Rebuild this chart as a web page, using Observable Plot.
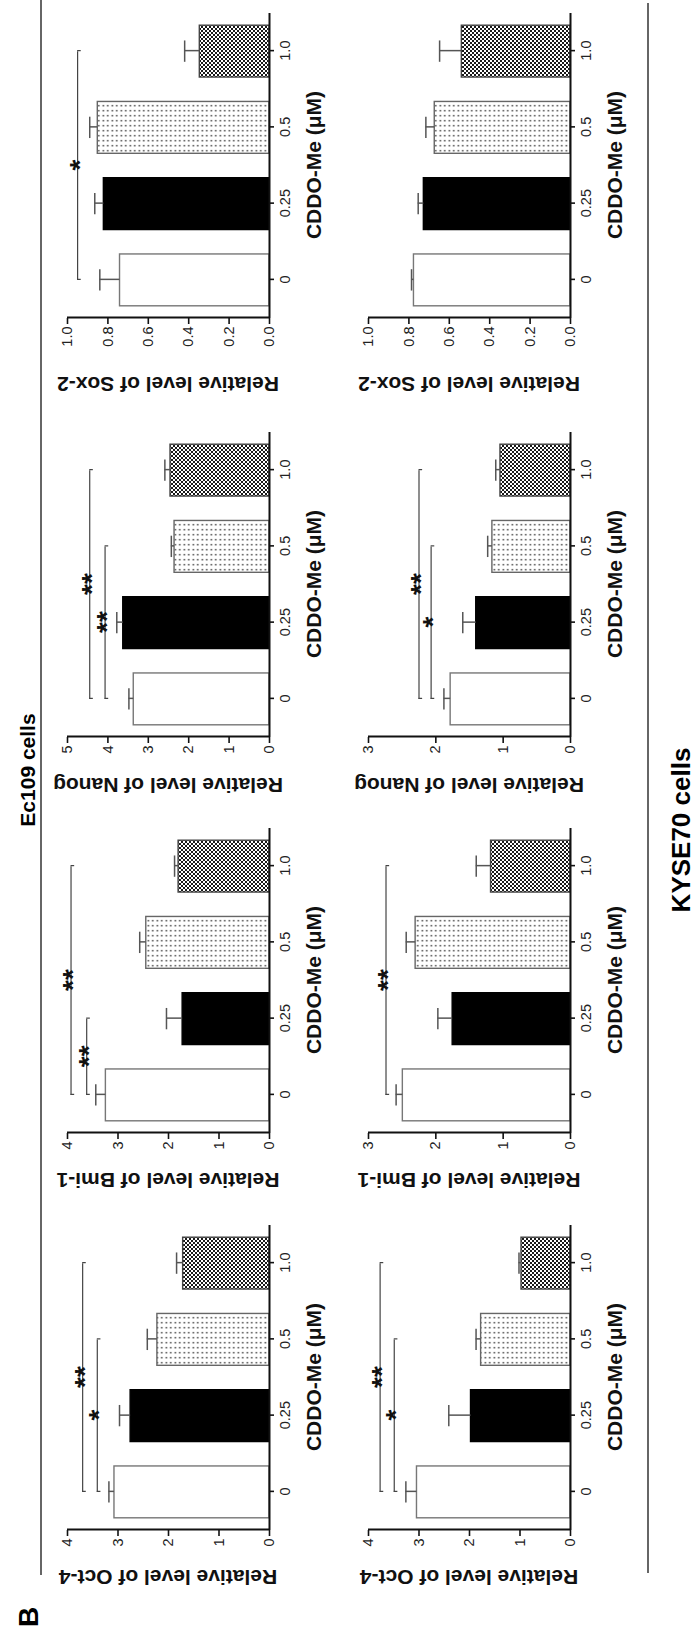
<!DOCTYPE html>
<html><head><meta charset="utf-8">
<script src="https://cdn.jsdelivr.net/npm/d3@7"></script>
<script src="https://cdn.jsdelivr.net/npm/@observablehq/plot@0.6"></script>
<style>
html,body{margin:0;padding:0;background:#fff;overflow:hidden;width:694px;height:1629px}
#fig{position:absolute;left:0;top:0;width:1629px;height:694px;transform-origin:0 0;transform:translate(0px,1629px) rotate(-90deg);font-family:Arial,"Liberation Sans",Helvetica,sans-serif;color:#111;background:#fff}
.panel{position:absolute;overflow:visible}
#overlay{position:absolute;left:0;top:0;overflow:visible}
</style></head>
<body><div id="fig"></div>
<script>
// ---------- data ----------
const doses = ["0", "0.25", "0.5", "1.0"];
const xLabel = "CDDO-Me (\u03bcM)";
const rowTitles = ["Ec109 cells", "KYSE70 cells"];
const panelLetter = "B";

const ticks3 = [0, 1, 2, 3];
const ticks4 = [0, 1, 2, 3, 4];
const ticks5 = [0, 1, 2, 3, 4, 5];
const ticksSox = [0, 0.2, 0.4, 0.6, 0.8, 1.0];

// Ec109
const ec109Oct4 = [3.07, 2.75, 2.22, 1.71];
const ec109Oct4Err = [0.11, 0.22, 0.20, 0.13];
const ec109Oct4Sig = [{from: 0, to: 2, y: 3.41, label: "*"}, {from: 0, to: 3, y: 3.70, label: "**"}];
const ec109Bmi1 = [3.24, 1.72, 2.44, 1.80];
const ec109Bmi1Err = [0.20, 0.32, 0.13, 0.08];
const ec109Bmi1Sig = [{from: 0, to: 1, y: 3.62, label: "**"}, {from: 0, to: 3, y: 3.93, label: "**"}];
const ec109Nanog = [3.36, 3.62, 2.35, 2.45];
const ec109NanogErr = [0.12, 0.16, 0.08, 0.14];
const ec109NanogSig = [{from: 0, to: 2, y: 4.07, label: "**"}, {from: 0, to: 3, y: 4.45, label: "**"}];
const ec109Sox2 = [0.74, 0.82, 0.85, 0.345];
const ec109Sox2Err = [0.10, 0.045, 0.04, 0.075];
const ec109Sox2Sig = [{from: 0, to: 3, y: 0.95, label: "*"}];

// KYSE70
const kyseOct4 = [3.04, 1.97, 1.77, 0.97];
const kyseOct4Err = [0.22, 0.44, 0.10, 0.05];
const kyseOct4Sig = [{from: 0, to: 2, y: 3.49, label: "*"}, {from: 0, to: 3, y: 3.77, label: "**"}];
const kyseBmi1 = [2.49, 1.75, 2.30, 1.18];
const kyseBmi1Err = [0.10, 0.22, 0.14, 0.22];
const kyseBmi1Sig = [{from: 0, to: 3, y: 2.74, label: "**"}];
const kyseNanog = [1.78, 1.40, 1.16, 1.04];
const kyseNanogErr = [0.10, 0.20, 0.07, 0.07];
const kyseNanogSig = [{from: 0, to: 2, y: 2.07, label: "*"}, {from: 0, to: 3, y: 2.25, label: "**"}];
const kyseSox2 = [0.775, 0.726, 0.672, 0.538];
const kyseSox2Err = [0.012, 0.028, 0.044, 0.11];
const kyseSox2Sig = [];

// ---------- styling ----------
const FONT = 'Arial, "Liberation Sans", Helvetica, sans-serif';
const barFills = ["#ffffff", "#000000", "url(#dotsPat)", "url(#checkPat)"];
const barStrokes = ["#777777", "#000000", "#666666", "#444444"];
const ML = 80, MR = 10, MT = 20, MB = 65, PW = 305, PH = 202;
const colX = [99, 496, 892, 1311];
const rowTop = [67, 368];

const fig = document.getElementById("fig");

// overlay: patterns, separator lines, titles
const ov = d3.select(fig).append("svg").attr("id", "overlay").attr("width", 1629).attr("height", 694);
const defs = ov.append("defs");
const dp = defs.append("pattern").attr("id", "dotsPat").attr("patternUnits", "userSpaceOnUse").attr("width", 5).attr("height", 4.5);
dp.append("rect").attr("width", 5).attr("height", 4.5).attr("fill", "#fff");
dp.append("rect").attr("x", 1.5).attr("y", 1.5).attr("width", 1.6).attr("height", 1.6).attr("fill", "#555");
const cp = defs.append("pattern").attr("id", "checkPat").attr("patternUnits", "userSpaceOnUse").attr("width", 4).attr("height", 4);
cp.append("rect").attr("width", 4).attr("height", 4).attr("fill", "#fff");
cp.append("rect").attr("x", 0).attr("y", 0).attr("width", 2).attr("height", 2).attr("fill", "#1a1a1a");
cp.append("rect").attr("x", 2).attr("y", 2).attr("width", 2).attr("height", 2).attr("fill", "#1a1a1a");

ov.append("line").attr("x1", 54).attr("x2", 1629).attr("y1", 41).attr("y2", 41).attr("stroke", "#333").attr("stroke-width", 1.5);
ov.append("line").attr("x1", 56).attr("x2", 1626).attr("y1", 648).attr("y2", 648).attr("stroke", "#333").attr("stroke-width", 1.5);
ov.append("text").attr("x", 859).attr("y", 35).attr("text-anchor", "middle").attr("font-family", FONT).attr("font-weight", "bold").attr("font-size", "21px").text(rowTitles[0]);
ov.append("text").attr("x", 799).attr("y", 690).attr("text-anchor", "middle").attr("font-family", FONT).attr("font-weight", "bold").attr("font-size", "26px").text(rowTitles[1]);
ov.append("text").attr("x", 2).attr("y", 38).attr("text-anchor", "start").attr("font-family", FONT).attr("font-weight", "bold").attr("font-size", "28px").text(panelLetter);

function panel({values, errs, sig, yTicks, yFmt, yLabel, col, row, labelOffset}) {
  const yMax = yTicks[yTicks.length - 1];
  const xDomain = [-0.5, doses.length - 0.5];
  const rows = doses.map((d, i) => ({i, dose: d, v: values[i], e: errs[i], fill: barFills[i], stroke: barStrokes[i]}));
  const drop = yMax * 0.018;
  const hw = 0.34, cap = 0.14;
  const chart = Plot.plot({
    width: ML + PW + MR, height: MT + PH + MB,
    marginLeft: ML, marginRight: MR, marginTop: MT, marginBottom: MB,
    style: {fontFamily: FONT, fontSize: "14.5px", color: "#111", background: "none", overflow: "visible"},
    x: {type: "linear", domain: xDomain},
    y: {domain: [0, yMax]},
    color: {type: "identity"},
    marks: [
      Plot.rectY(rows, {x1: d => d.i - hw, x2: d => d.i + hw, y1: () => 0, y2: "v", fill: "fill", stroke: "stroke", strokeWidth: 1.4}),
      Plot.ruleX(rows, {x: "i", y1: "v", y2: d => d.v + d.e, stroke: "#555", strokeWidth: 1.5}),
      Plot.ruleY(rows, {x1: d => d.i - cap, x2: d => d.i + cap, y: d => d.v + d.e, stroke: "#555", strokeWidth: 1.5}),
      Plot.ruleY(sig, {x1: "from", x2: "to", y: "y", stroke: "#444", strokeWidth: 1.2}),
      Plot.ruleX(sig, {x: "from", y1: "y", y2: d => d.y - drop, stroke: "#444", strokeWidth: 1.2}),
      Plot.ruleX(sig, {x: "to", y1: "y", y2: d => d.y - drop, stroke: "#444", strokeWidth: 1.2}),
      Plot.text(sig, {x: d => (d.from + d.to) / 2, y: "y", text: "label", lineAnchor: "bottom", dy: 11, fontSize: 28, fontWeight: "bold", fill: "#111"}),
      Plot.ruleY([0], {stroke: "#111", strokeWidth: 2}),
      Plot.ruleX([xDomain[0]], {y1: () => 0, y2: () => yMax, stroke: "#111", strokeWidth: 2}),
      Plot.axisY({ticks: yTicks, tickFormat: yFmt, tickSize: 6, tickPadding: 3, stroke: "#111", strokeWidth: 1.6, fill: "#222", label: null}),
      Plot.axisX({ticks: doses.map((d, i) => i), tickFormat: i => doses[i], tickSize: 5, tickPadding: 5, stroke: "#111", strokeWidth: 1.6, fill: "#222", label: null}),
      Plot.text([xLabel], {text: d => d, frameAnchor: "bottom", dy: 37, lineAnchor: "top", fontSize: 21, fontWeight: "bold", fill: "#111"})
    ]
  });
  chart.classList.add("panel");
  chart.style.left = (colX[col] - ML) + "px";
  chart.style.top = (rowTop[row] - MT) + "px";
  chart.style.overflow = "visible";
  chart.style.maxWidth = "none";
  d3.select(chart).append("text")
    .attr("transform", `translate(${ML - labelOffset},${MT + PH / 2}) rotate(-90)`)
    .attr("text-anchor", "middle")
    .attr("font-family", FONT).attr("font-size", "21px").attr("font-weight", "bold").attr("fill", "#111")
    .text(yLabel);
  fig.appendChild(chart);
}

const intFmt = d => String(d);
const decFmt = d3.format(".1f");

panel({values: ec109Oct4, errs: ec109Oct4Err, sig: ec109Oct4Sig, yTicks: ticks4, yFmt: intFmt, yLabel: "Relative level of Oct-4", col: 0, row: 0, labelOffset: 40});
panel({values: ec109Bmi1, errs: ec109Bmi1Err, sig: ec109Bmi1Sig, yTicks: ticks4, yFmt: intFmt, yLabel: "Relative level of Bmi-1", col: 1, row: 0, labelOffset: 40});
panel({values: ec109Nanog, errs: ec109NanogErr, sig: ec109NanogSig, yTicks: ticks5, yFmt: intFmt, yLabel: "Relative level of Nanog", col: 2, row: 0, labelOffset: 41});
panel({values: ec109Sox2, errs: ec109Sox2Err, sig: ec109Sox2Sig, yTicks: ticksSox, yFmt: decFmt, yLabel: "Relative level of Sox-2", col: 3, row: 0, labelOffset: 59});

panel({values: kyseOct4, errs: kyseOct4Err, sig: kyseOct4Sig, yTicks: ticks4, yFmt: intFmt, yLabel: "Relative level of Oct-4", col: 0, row: 1, labelOffset: 40});
panel({values: kyseBmi1, errs: kyseBmi1Err, sig: kyseBmi1Sig, yTicks: ticks3, yFmt: intFmt, yLabel: "Relative level of Bmi-1", col: 1, row: 1, labelOffset: 40});
panel({values: kyseNanog, errs: kyseNanogErr, sig: kyseNanogSig, yTicks: ticks3, yFmt: intFmt, yLabel: "Relative level of Nanog", col: 2, row: 1, labelOffset: 41});
panel({values: kyseSox2, errs: kyseSox2Err, sig: kyseSox2Sig, yTicks: ticksSox, yFmt: decFmt, yLabel: "Relative level of Sox-2", col: 3, row: 1, labelOffset: 59});
</script></body></html>
